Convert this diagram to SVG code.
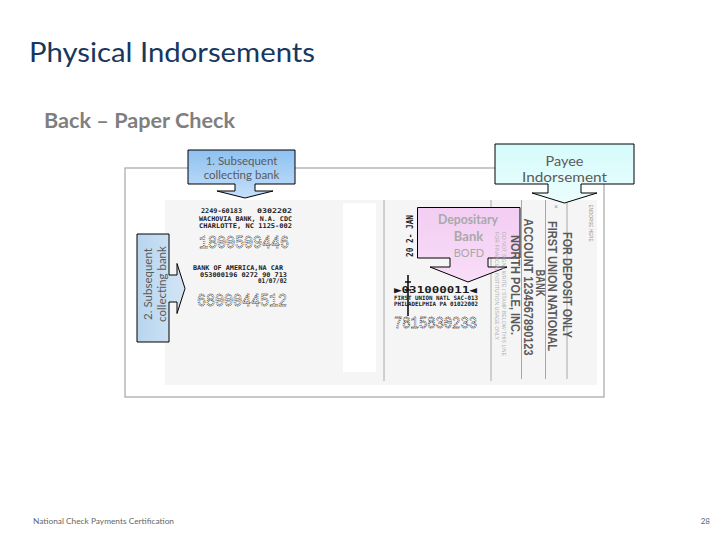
<svg xmlns="http://www.w3.org/2000/svg" width="720" height="540" viewBox="0 0 720 540">
<defs>
<linearGradient id="gBlue" x1="0" y1="0" x2="0" y2="1"><stop offset="0" stop-color="#8fc1f0"/><stop offset="1" stop-color="#c4e0fb"/></linearGradient>
<linearGradient id="gBlue2" x1="0" y1="0" x2="1" y2="0"><stop offset="0" stop-color="#b8d5ee"/><stop offset="1" stop-color="#d3e5f5"/></linearGradient>
<linearGradient id="gCyan" x1="0" y1="0" x2="0" y2="1"><stop offset="0" stop-color="#d6fbfb"/><stop offset="1" stop-color="#eafdfd"/></linearGradient>
<linearGradient id="gPink" x1="0" y1="0" x2="0" y2="1"><stop offset="0" stop-color="#f3cdf3"/><stop offset="1" stop-color="#f8ddf8"/></linearGradient>
<style>
.callout{stroke:#000;stroke-width:1}
.ct{font-family:Lato,"Open Sans","Liberation Sans",sans-serif;fill:#5a5a5a;text-anchor:middle}
.st{font-family:"DejaVu Sans Mono","Liberation Mono",monospace;font-weight:bold;fill:#1a1a1a}
.big{font-family:"Liberation Mono","DejaVu Sans Mono",monospace;fill:#fff;stroke:#333;stroke-width:0.8px;stroke-dasharray:1.2 0.8}
.ind{font-family:"Liberation Sans",Arial,sans-serif;font-weight:bold;fill:#5a5a5a;font-size:12.5px;text-anchor:middle}
.tiny{font-family:"Liberation Sans",Arial,sans-serif;font-size:4.5px;fill:#b0b0b0;text-anchor:middle}
.vl{stroke:#a8a8a8;stroke-width:1px}
</style>
</defs>
<rect width="720" height="540" fill="#fff"/>

<text x="29" y="62" font-family="Lato,'Open Sans','Liberation Sans',sans-serif" font-size="26" fill="#17375e" textLength="286" lengthAdjust="spacingAndGlyphs">Physical Indorsements</text>
<text x="44" y="128" font-family="Lato,'Open Sans','Liberation Sans',sans-serif" font-size="20" font-weight="bold" fill="#7f7f7f" textLength="191" lengthAdjust="spacingAndGlyphs">Back – Paper Check</text>

<g id="check">
<rect x="125" y="168" width="479" height="229" fill="#fff" stroke="#a6a6a6" stroke-width="1.2"/>
<rect x="165" y="200" width="432" height="185" fill="#f5f5f5"/>
<rect x="343" y="203" width="33" height="169" fill="#fff"/>
<line class="vl" x1="384" y1="200" x2="384" y2="381"/>
<line class="vl" x1="491" y1="200" x2="491" y2="381"/>
<line class="vl" x1="521.5" y1="200" x2="521.5" y2="379"/>
<line class="vl" x1="545.5" y1="200" x2="545.5" y2="379"/>
<line class="vl" x1="567" y1="200" x2="567" y2="379"/>

<text class="st" x="201" y="213" font-size="6.5" textLength="41" lengthAdjust="spacingAndGlyphs">2249-60183</text>
<text class="st" x="257" y="213" font-size="6.5" textLength="35" lengthAdjust="spacingAndGlyphs">0302202</text>
<text class="st" x="199" y="220.5" font-size="6.5" textLength="93" lengthAdjust="spacingAndGlyphs">WACHOVIA BANK, N.A.  CDC</text>
<text class="st" x="199" y="228" font-size="6.5" textLength="93" lengthAdjust="spacingAndGlyphs">CHARLOTTE, NC   1125-002</text>
<text class="big" x="199" y="248" font-size="19" textLength="90" lengthAdjust="spacingAndGlyphs">1800509446</text>
<text class="st" x="193" y="270" font-size="6.5" textLength="90" lengthAdjust="spacingAndGlyphs">BANK OF AMERICA,NA CAR</text>
<text class="st" x="200" y="276.5" font-size="6.5" textLength="87" lengthAdjust="spacingAndGlyphs">053000196 0272 90 713</text>
<text class="st" x="258" y="283" font-size="6.5" textLength="29" lengthAdjust="spacingAndGlyphs">01/07/02</text>
<text class="big" x="197" y="306" font-size="19" textLength="90" lengthAdjust="spacingAndGlyphs">6800044512</text>

<text class="st" transform="rotate(-90 413 236)" x="413" y="236" font-size="8" text-anchor="middle" textLength="42" lengthAdjust="spacingAndGlyphs">20 2- JAN</text>
<text class="st" x="394" y="293" font-size="9" textLength="83" lengthAdjust="spacingAndGlyphs">▶031000011◀</text>
<text class="st" x="394" y="300" font-size="6" textLength="84" lengthAdjust="spacingAndGlyphs">FIRST UNION NATL SAC-013</text>
<text class="st" x="394" y="306" font-size="6" textLength="84" lengthAdjust="spacingAndGlyphs">PHILADELPHIA PA 01022002</text>
<text class="big" x="394" y="328" font-size="16" textLength="83" lengthAdjust="spacingAndGlyphs">7815830233</text>
<path d="M408,275 V316 M405,282 H411 M405,290 H411" stroke="#111" stroke-width="1.6" fill="none"/>
</g>

<g id="connectors"/>

<g id="callout-subsequent-1">
<path class="callout" fill="url(#gBlue)" d="M188,150 H295 V184 H255 V191 H273 L245,198 L217,191 H235 V184 H188 Z"/>
<text class="ct" x="241.5" y="165" font-size="11.5">1. Subsequent</text>
<text class="ct" x="241.5" y="179" font-size="11.5">collecting bank</text>
</g>

<g id="callout-subsequent-2">
<path class="callout" fill="url(#gBlue2)" d="M137,234 H169 V275 H177 V263.5 L185,288.5 L177,313.5 V302 H169 V342 H137 Z"/>
<text class="ct" transform="rotate(-90 151.5 284)" x="151.5" y="284" font-size="11.5">2. Subsequent</text>
<text class="ct" transform="rotate(-90 165.5 284)" x="165.5" y="284" font-size="11.5">collecting bank</text>
</g>

<g id="callout-depositary">
<path class="callout" fill="url(#gPink)" d="M417.5,207.5 H520 V258 H488 V267 H507 L468,282 L430,267 H450 V258 H417.5 Z"/>
<text class="ct" x="468" y="224" font-size="13" font-weight="bold" style="fill:#a9a9a9" textLength="60" lengthAdjust="spacingAndGlyphs">Depositary</text>
<text class="ct" x="468.5" y="241" font-size="13" font-weight="bold" style="fill:#a9a9a9">Bank</text>
<text class="ct" x="469" y="257" font-size="11" style="fill:#a9a9a9">BOFD</text>
</g>

<g id="indorsement-text">
<text class="tiny" transform="rotate(90 589 223)" x="589" y="223" style="font-size:5px;fill:#909090" textLength="37" lengthAdjust="spacingAndGlyphs">ENDORSE HERE</text>
<text x="554" y="209" font-family="Liberation Sans,Arial,sans-serif" font-size="7" fill="#999">×</text>
<text class="ind" transform="rotate(90 563 285)" x="563" y="285" textLength="106" lengthAdjust="spacingAndGlyphs">FOR DEPOSIT ONLY</text>
<text class="ind" transform="rotate(90 547.5 286)" x="547.5" y="286" textLength="130" lengthAdjust="spacingAndGlyphs">FIRST UNION NATIONAL</text>
<text class="ind" transform="rotate(90 536 283)" x="536" y="283" textLength="27" lengthAdjust="spacingAndGlyphs">BANK</text>
<text class="ind" transform="rotate(90 524 287)" x="524" y="287" textLength="137" lengthAdjust="spacingAndGlyphs">ACCOUNT 1234567890123</text>
<text class="ind" transform="rotate(90 511 285)" x="511" y="285" textLength="100" lengthAdjust="spacingAndGlyphs">NORTH POLE, INC.</text>
<text class="tiny" transform="rotate(90 502 294)" x="502" y="294" textLength="124" lengthAdjust="spacingAndGlyphs">DO NOT SIGN / WRITE / STAMP BELOW THIS LINE</text>
<text class="tiny" transform="rotate(90 495 286)" x="495" y="286" textLength="108" lengthAdjust="spacingAndGlyphs">FOR FINANCIAL INSTITUTION USAGE ONLY</text>
</g>

<g id="callout-payee">
<path class="callout" fill="url(#gCyan)" d="M495,144 H634 V184 H581 V193 H597 L564.5,203 L532,193 H548 V184 H495 Z"/>
<text class="ct" x="564.5" y="166" font-size="13" textLength="38" lengthAdjust="spacingAndGlyphs">Payee</text>
<text class="ct" x="564.5" y="182" font-size="13" textLength="85" lengthAdjust="spacingAndGlyphs">Indorsement</text>
</g>

<text x="33" y="524" font-family="Lato,'Open Sans','Liberation Sans',sans-serif" font-size="8" fill="#666" textLength="141" lengthAdjust="spacingAndGlyphs">National Check Payments Certification</text>
<text x="710" y="524" font-family="Lato,'Open Sans','Liberation Sans',sans-serif" font-size="8" fill="#666" text-anchor="end">28</text>
</svg>
